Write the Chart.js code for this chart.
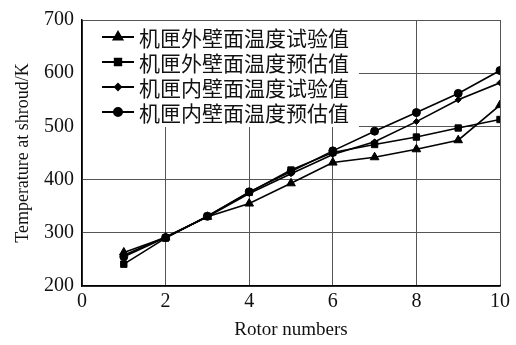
<!DOCTYPE html>
<html>
<head>
<meta charset="utf-8">
<script src="https://cdn.jsdelivr.net/npm/chart.js@4.4.1/dist/chart.umd.min.js"></script>
<style>
  html, body { margin: 0; padding: 0; background: #fff; }
  #wrap { width: 516px; height: 345px; }
</style>
</head>
<body>
<div id="wrap"><canvas id="tempChart" width="516" height="345"></canvas></div>
<script>
// rotor number on x axis, shroud temperature (K) on y
const rotorNumbers = [1, 2, 3, 4, 5, 6, 7, 8, 9, 10];
const outerTest = [263, 291, 330, 355, 393, 432, 442, 457, 474, 540];
const outerPredict = [241, 290, 331, 376, 418, 451, 466, 480, 497, 513];
const innerTest = [258, 292, 330, 374, 411, 447, 471, 509, 550, 582];
const innerPredict = [255, 291, 331, 377, 415, 454, 491, 526, 562, 605];
const seriesNames = ['机匣外壁面温度试验值', '机匣外壁面温度预估值', '机匣内壁面温度试验值', '机匣内壁面温度预估值'];
const xTitle = 'Rotor numbers';
const yTitle = 'Temperature at shroud/K';

const SERIF = '"Liberation Serif", "Times New Roman", serif';
const CJK = '"Noto Sans CJK SC", sans-serif';

function makeSeries(name, values, style, radius) {
    return {
        label: name,
        data: values.map((v, i) => ({ x: rotorNumbers[i], y: v })),
        borderColor: '#000',
        backgroundColor: '#000',
        borderWidth: 1.6,
        pointStyle: style,
        pointRadius: radius,
        pointBorderWidth: 1,
        tension: 0
    };
}

// legend drawn inside the plot, with a white box over the grid
const insideLegend = {
    id: 'insideLegend',
    afterDatasetsDraw(chart) {
        const ctx = chart.ctx;
        const area = chart.chartArea;
        ctx.save();
        ctx.fillStyle = '#fff';
        ctx.fillRect(area.left + 1, area.top + 1, 276, 106);
        ctx.font = '21px ' + CJK;
        ctx.textBaseline = 'middle';
        chart.data.datasets.forEach((ds, i) => {
            const y = area.top + 17 + i * 25;
            const x0 = area.left + 20;
            ctx.strokeStyle = '#000';
            ctx.fillStyle = '#000';
            ctx.lineWidth = 2;
            ctx.beginPath();
            ctx.moveTo(x0, y);
            ctx.lineTo(x0 + 32, y);
            ctx.stroke();
            Chart.helpers.drawPoint(ctx, {
                pointStyle: ds.pointStyle,
                radius: ds.pointRadius,
                borderWidth: 1
            }, x0 + 16, y);
            ctx.fillStyle = '#111';
            ctx.fillText(ds.label, x0 + 37, y + 1);
        });
        ctx.restore();
    }
};

new Chart(document.getElementById('tempChart'), {
    type: 'line',
    data: {
        datasets: [
            makeSeries(seriesNames[0], outerTest, 'triangle', 5),
            makeSeries(seriesNames[1], outerPredict, 'rect', 4.5),
            makeSeries(seriesNames[2], innerTest, 'rectRot', 3),
            makeSeries(seriesNames[3], innerPredict, 'circle', 4)
        ]
    },
    options: {
        responsive: false,
        animation: false,
        devicePixelRatio: 1,
        layout: { padding: { left: 12, right: 16, top: 16, bottom: 4 } },
        plugins: {
            legend: { display: false },
            tooltip: { enabled: false }
        },
        scales: {
            x: {
                type: 'linear',
                min: 0,
                max: 10,
                ticks: {
                    stepSize: 2,
                    color: '#111',
                    padding: 4,
                    font: { family: SERIF, size: 20 }
                },
                grid: { color: '#555', lineWidth: 1, drawTicks: false },
                border: { color: '#000', width: 1.5 },
                title: {
                    display: true,
                    text: xTitle,
                    color: '#111',
                    padding: { top: 4, bottom: 0 },
                    font: { family: SERIF, size: 19 }
                },
                afterFit(scale) { scale.height = 55; }
            },
            y: {
                min: 200,
                max: 700,
                ticks: {
                    stepSize: 100,
                    color: '#111',
                    padding: 8,
                    font: { family: SERIF, size: 20 }
                },
                grid: { color: '#555', lineWidth: 1, drawTicks: false },
                border: { color: '#000', width: 1.5 },
                title: {
                    display: true,
                    text: yTitle,
                    color: '#111',
                    padding: { top: 0, bottom: 2 },
                    font: { family: SERIF, size: 18 }
                },
                afterFit(scale) { scale.width = 70; }
            }
        }
    },
    plugins: [insideLegend]
});
</script>
</body>
</html>
